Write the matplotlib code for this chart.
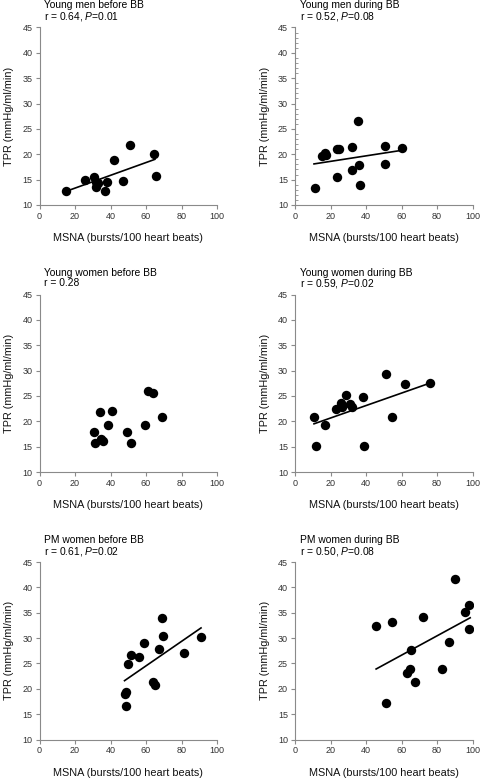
import numpy
from matplotlib import pyplot as plt

plt.rcParams['font.family'] = ['Liberation Sans', 'DejaVu Sans']
plt.rcParams['mathtext.fontset'] = 'custom'
plt.rcParams['mathtext.rm'] = 'Liberation Sans'
plt.rcParams['mathtext.it'] = 'Liberation Sans:italic'

# young men before BB
ym_pre_x = [14.8, 25.8, 30.9, 31.8, 32.0, 33.0, 36.9, 37.8, 41.8, 46.8, 50.9, 64.6, 65.7]
ym_pre_y = [12.8, 14.9, 15.6, 14.5, 13.5, 14.3, 12.8, 14.6, 18.9, 14.8, 21.9, 20.0, 15.8]
ym_pre_fit_x = [15, 65]
ym_pre_fit_y = [12.7, 19.0]

# young men during BB
ym_bb_x = [11.3, 15.4, 17.1, 17.5, 23.5, 24.6, 23.5, 32.0, 32.3, 35.5, 35.9, 36.5, 50.8, 50.8, 60.2]
ym_bb_y = [13.4, 19.6, 20.2, 19.8, 21.1, 21.1, 15.6, 16.9, 21.4, 26.6, 17.8, 14.0, 21.7, 18.1, 21.2]
ym_bb_fit_x = [10.7, 60.5]
ym_bb_fit_y = [18.1, 20.8]

# young women before BB
yw_pre_x = [30.9, 31.5, 34.3, 34.6, 35.9, 38.8, 40.8, 49.1, 51.7, 59.6, 60.9, 64.0, 69.1]
yw_pre_y = [17.8, 15.8, 21.8, 16.6, 16.1, 19.3, 22.1, 17.9, 15.8, 19.2, 25.9, 25.5, 20.9]

# young women during BB
yw_bb_x = [10.5, 11.7, 16.9, 23.1, 25.9, 26.3, 28.8, 31.0, 32.0, 38.5, 39.1, 51.3, 54.9, 61.7, 75.8]
yw_bb_y = [20.8, 15.2, 19.3, 22.4, 23.6, 22.8, 25.1, 23.4, 22.9, 24.7, 15.1, 29.3, 20.9, 27.4, 27.5]
yw_bb_fit_x = [10.7, 75.8]
yw_bb_fit_y = [19.5, 27.5]

# postmenopausal women before BB
pm_pre_x = [48.3, 48.9, 48.5, 50.0, 51.7, 56.2, 58.8, 63.7, 65.2, 67.6, 68.9, 69.5, 81.3, 90.8]
pm_pre_y = [19.0, 19.4, 16.6, 24.9, 26.7, 26.3, 29.0, 21.3, 20.8, 27.8, 33.9, 30.4, 27.1, 30.3]
pm_pre_fit_x = [47.9, 91.0]
pm_pre_fit_y = [21.6, 32.0]

# postmenopausal women during BB
pm_bb_x = [45.7, 51.3, 54.5, 63.0, 65.0, 65.4, 67.5, 72.0, 82.9, 86.8, 90.2, 95.7, 98.3, 98.1]
pm_bb_y = [32.3, 17.1, 33.2, 23.2, 23.9, 27.7, 21.3, 34.1, 23.9, 29.3, 41.6, 35.2, 36.5, 31.7]
pm_bb_fit_x = [45.7, 98.7]
pm_bb_fit_y = [23.9, 34.0]

titles = ['Young men before BB', 'Young men during BB',
          'Young women before BB', 'Young women during BB',
          'PM women before BB', 'PM women during BB']
stats = ['r = 0.64, $\\it{P}$=0.01', 'r = 0.52, $\\it{P}$=0.08',
         'r = 0.28', 'r = 0.59, $\\it{P}$=0.02',
         'r = 0.61, $\\it{P}$=0.02', 'r = 0.50, $\\it{P}$=0.08']

xlabel = 'MSNA (bursts/100 heart beats)'
ylabel = 'TPR (mmHg/ml/min)'


def panel(fig, rect, xs, ys, fit_x, fit_y, title, stat, minor=False):
    ax = fig.add_axes(rect)
    ax.scatter(xs, ys, s=46, color='black', zorder=3, linewidths=0)
    if fit_x is not None:
        ax.plot(fit_x, fit_y, color='black', lw=1.2, zorder=2)

    ax.set_xlim(0, 100)
    ax.set_ylim(10, 45)
    ax.set_xticks(range(0, 101, 20))
    ax.set_yticks(range(10, 46, 5))
    for side in ['top', 'right']:
        ax.spines[side].set_visible(False)
    for side in ['left', 'bottom']:
        ax.spines[side].set_color('#8a8a8a')
        ax.spines[side].set_linewidth(0.8)
    ax.tick_params(length=3, width=0.8, color='#8a8a8a', labelsize=6.5,
                   labelcolor='#333333', pad=2)
    if minor:
        ax.set_yticks(numpy.arange(10, 46, 1), minor=True)
        ax.tick_params(axis='y', which='minor', direction='in', length=2,
                       width=0.6, color='#8a8a8a')

    ax.set_xlabel(xlabel, fontsize=7.8, labelpad=9, color='#111111')
    ax.set_ylabel(ylabel, fontsize=7.8, labelpad=6, color='#111111')

    ax.annotate(title, xy=(0, 1), xycoords='axes fraction', xytext=(5, 22),
                textcoords='offset pixels', fontsize=7.4, va='center', ha='left')
    ax.annotate(stat, xy=(0, 1), xycoords='axes fraction', xytext=(5, 11),
                textcoords='offset pixels', fontsize=7.4, va='center', ha='left')
    return ax


fig = plt.figure(figsize=(4.8, 7.8), dpi=100)

left_l, left_r = 39.5 / 480, 295 / 480
w = 177.5 / 480
h = 177.5 / 780
rows = [1 - 205 / 780, 1 - 472 / 780, 1 - 739.5 / 780]

panel(fig, [left_l, rows[0], w, h], ym_pre_x, ym_pre_y, ym_pre_fit_x, ym_pre_fit_y, titles[0], stats[0])
panel(fig, [left_r, rows[0], w, h], ym_bb_x, ym_bb_y, ym_bb_fit_x, ym_bb_fit_y, titles[1], stats[1], minor=True)
panel(fig, [left_l, rows[1], w, h], yw_pre_x, yw_pre_y, None, None, titles[2], stats[2])
panel(fig, [left_r, rows[1], w, h], yw_bb_x, yw_bb_y, yw_bb_fit_x, yw_bb_fit_y, titles[3], stats[3])
panel(fig, [left_l, rows[2], w, h], pm_pre_x, pm_pre_y, pm_pre_fit_x, pm_pre_fit_y, titles[4], stats[4])
panel(fig, [left_r, rows[2], w, h], pm_bb_x, pm_bb_y, pm_bb_fit_x, pm_bb_fit_y, titles[5], stats[5])

fig.savefig('out.png', dpi=100)
